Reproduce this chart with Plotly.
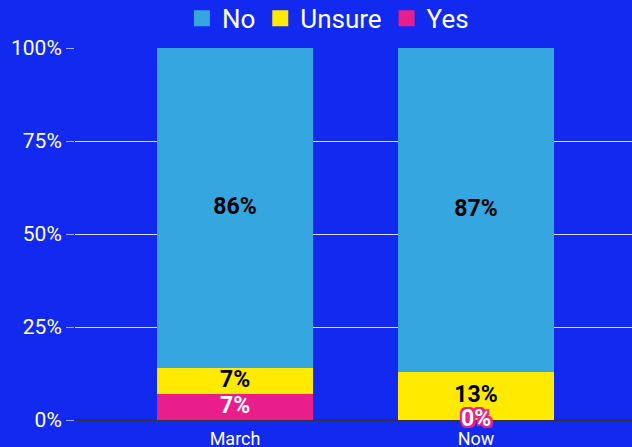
import plotly.graph_objects as go

categories = ["March", "Now"]
series_names = ["No", "Unsure", "Yes"]
no_vals = [86, 87]
unsure_vals = [7, 13]
yes_vals = [7, 0]
tick_vals = [0, 25, 50, 75, 100]
tick_text = ["0%", "25%", "50%", "75%", "100%"]

colors = {"No": "#36A6E0", "Unsure": "#FFEA00", "Yes": "#E91E8C"}
BG = "#1229EF"
FONT = "Roboto"

fig = go.Figure()
# stacked bars, bottom to top
stack = [("Yes", yes_vals), ("Unsure", unsure_vals), ("No", no_vals)]
for name, vals in stack:
    fig.add_trace(go.Bar(x=categories, y=vals, name=name, marker_color=colors[name],
                         marker_line_width=0, showlegend=False, hoverinfo="x+y+name"))

# labels centered in each segment
base = [0] * len(categories)
for name, vals in stack:
    centers = [b + v / 2 for b, v in zip(base, vals)]
    if name == "Yes":
        sh = ", ".join(f"{dx}px {dy}px 0 {colors['Yes']}" for dx in (-2, 0, 2) for dy in (-2, 0, 2))
        tf = dict(family=FONT, size=23, color="white", weight="bold", shadow=sh)
    else:
        tf = dict(family=FONT, size=23, color="black", weight="bold")
    fig.add_trace(go.Scatter(x=categories, y=centers, mode="text",
                             text=[f"{v}%" for v in vals], textfont=tf, cliponaxis=False,
                             showlegend=False, hoverinfo="skip"))
    base = [b + v for b, v in zip(base, vals)]

# legend entries
for name in series_names:
    fig.add_trace(go.Scatter(x=[None], y=[None], mode="markers", name=name,
                             marker=dict(symbol="square", size=16, color=colors[name])))

fig.update_layout(
    width=632, height=447,
    barmode="stack", bargap=0.35,
    paper_bgcolor=BG, plot_bgcolor=BG,
    margin=dict(l=75, r=0, t=48, b=27, autoexpand=False),
    font=dict(family=FONT, color="white"),
    legend=dict(orientation="h", x=0.454, xanchor="center", y=1.08, yanchor="middle",
                traceorder="normal",
                font=dict(size=26, color="white"), itemwidth=30,
                bgcolor="rgba(0,0,0,0)"),
    xaxis=dict(range=[-0.664, 1.647], showgrid=False, tickfont=dict(size=18, color="white"),
               ticks="", showline=False, fixedrange=True, ticklabelstandoff=6),
    yaxis=dict(range=[0, 100], tickvals=tick_vals, ticktext=tick_text,
               tickfont=dict(size=21, color="white"), showgrid=True,
               gridcolor="rgba(255,255,255,0.85)", gridwidth=1,
               ticks="outside", ticklen=8, tickcolor="rgba(255,255,255,0.6)",
               zeroline=True, zerolinecolor="#333344", zerolinewidth=2,
               showline=False, fixedrange=True),
)

fig.write_html("out.html")
